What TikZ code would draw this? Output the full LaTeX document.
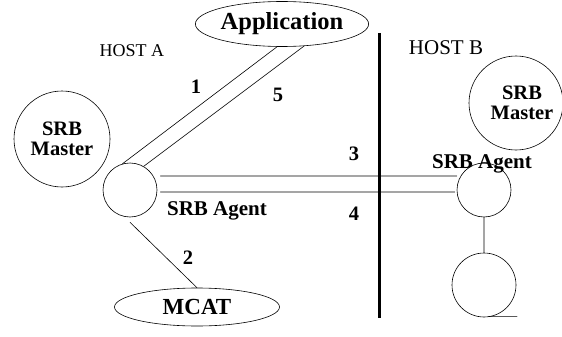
\documentclass[tikz,border=0pt]{standalone}
\usepackage{fontspec}
\setmainfont{Liberation Serif}
\usetikzlibrary{shapes.geometric}
\begin{document}
\begin{tikzpicture}[x=1pt, y=-1pt, line join=round, line cap=round, line width=0.6pt,
	font=\bfseries\fontsize{20.5}{20}\selectfont,
	oval/.style={draw, ellipse, inner sep=0pt},
	ball/.style={draw, circle, inner sep=0pt, align=center}]
				\useasboundingbox (0,0) rectangle (562,337);
				
				\path
				(282,24) node[oval, minimum width=168pt, minimum height=45pt] (App) {\fontsize{24.5}{24.5}\selectfont Application}
				(197,307) node[oval, minimum width=165pt, minimum height=38pt] (Mcat) {\fontsize{23}{23}\selectfont MCAT}
				(62,139) node[ball, minimum size=96pt] (MasterA) {SRB\\Master}
				(516,103) node[ball, minimum size=94pt] (MasterB) {\hspace*{12pt}SRB\\\hspace*{12pt}Master}
				(130,190) node[ball, minimum size=54pt] (AgentA) {}
				(484,190) node[ball, minimum size=54pt] (AgentB) {}
				(484,285) node[ball, minimum size=64pt] (Disk) {};
				
				% host border
				\draw[line width=3pt, line cap=butt] (379,33) coordinate (top) -- (379,318) coordinate (bot);
				
				\draw
				(AgentA.106) -- ([xshift=-5pt]App.south)
				(AgentA.60) -- (App.-45)
				([xshift=3pt, yshift=14pt]AgentA.east) -- ([yshift=14pt]AgentB.west)
				([xshift=3pt, yshift=-2pt]AgentA.east) -- ([xshift=-2pt, yshift=-2pt]AgentB.west)
				([yshift=-5pt]AgentA.south) -- (Mcat.north)
				(AgentB.south) -- (Disk.north)
				([xshift=4pt, yshift=1pt]Disk.south) -- ([xshift=33pt, yshift=1pt]Disk.south);
				
				\path
				(217,215) node[anchor=base, font=\bfseries\fontsize{21}{21}\selectfont] (lblA) {SRB Agent}
				(482,168) node[anchor=base, font=\bfseries\fontsize{21}{21}\selectfont] (lblB) {SRB Agent}
				(132,57) node[anchor=base, font=\fontsize{18}{18}\selectfont] (hostA) {HOST A}
				(446,55) node[anchor=base, font=\fontsize{21}{21}\selectfont] (hostB) {HOST B};
				
				\foreach \t/\x/\y in {1/196/87, 5/278/95, 3/354/154, 4/354/214, 2/188/258}
				\node (n\t) at (\x,\y) {\t};
			\end{tikzpicture}
\end{document}
